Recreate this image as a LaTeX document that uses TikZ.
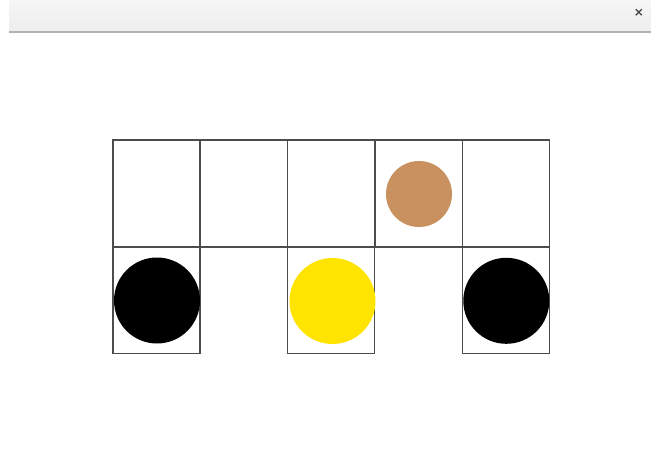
\documentclass[tikz,border=0pt]{standalone}
\usepackage{fontspec}
\setmainfont{DejaVu Sans}
\definecolor{brownball}{HTML}{C8915F}
\definecolor{yellowball}{HTML}{FFE400}
\definecolor{barbg}{HTML}{EDEDED}
\begin{document}
\begin{tikzpicture}[x=1pt,y=-1pt,
  cell/.style={draw=black!70,line width=1.2pt,minimum width=87pt,minimum height=107pt,inner sep=0pt,outer sep=0pt},
  ball/.style={circle,inner sep=0pt,outer sep=0pt,draw=none}]
\useasboundingbox (0,0) rectangle (651,461);
\fill[white] (0,0) rectangle (651,461);
% title bar
\shade[top color=barbg!50,bottom color=barbg] (9,0) rectangle (651,32);
\draw[black!30,line width=1.5pt] (9,32) -- (651,32);
\node[font=\bfseries\large,text=black!75,inner sep=0pt] (close) at (639,13) {×};
% top row cells
\node[cell] (t1) at (156.5,193.5) {};
\node[cell] (t2) at (243.9,193.5) {};
\node[cell] (t3) at (331.2,193.5) {};
\node[cell] (t4) at (418.6,193.5) {};
\node[cell] (t5) at (506,193.5) {};
% bottom row cells
\node[cell] (b1) at (156.5,300) {};
\node[cell] (b3) at (331.2,300) {};
\node[cell] (b5) at (506,300) {};
% balls
\node[ball,fill=brownball,minimum size=66pt] (p1) at (419,194) {};
\node[ball,fill=black,minimum size=86pt] (p2) at (157,300.5) {};
\node[ball,fill=yellowball,minimum size=86pt] (p3) at (332.5,301) {};
\node[ball,fill=black,minimum size=86pt] (p4) at (506.3,300.8) {};
\end{tikzpicture}
\end{document}
